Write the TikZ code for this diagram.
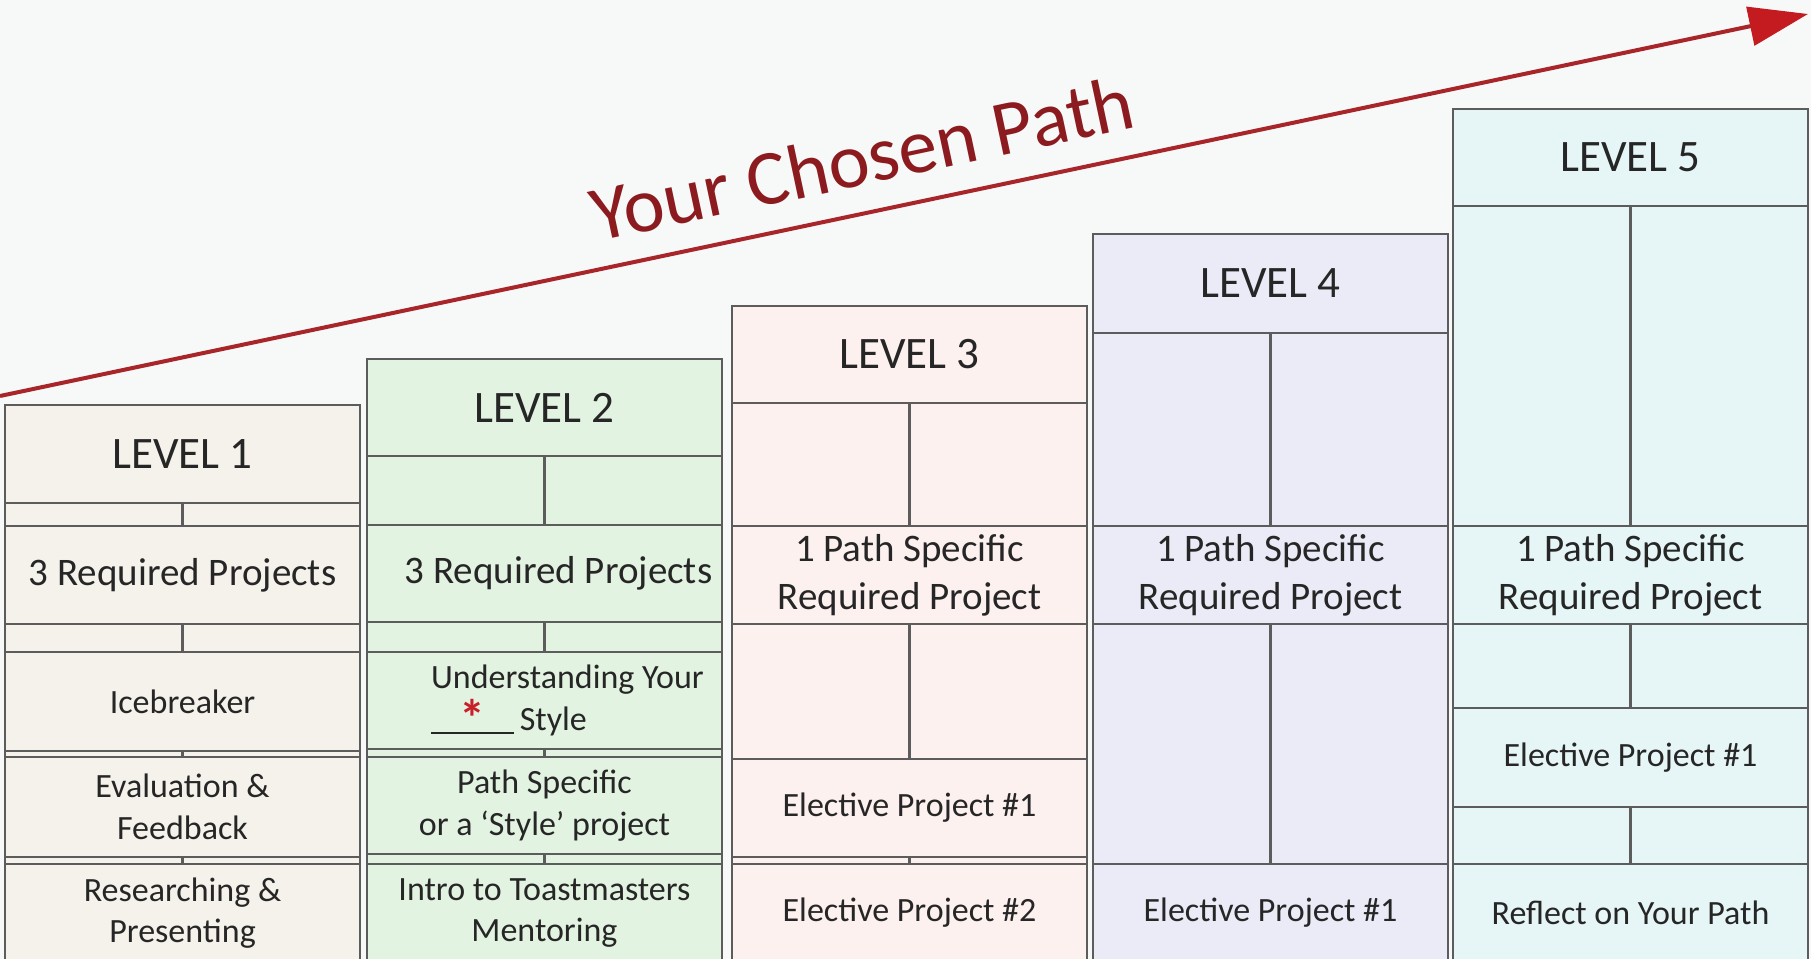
\documentclass[tikz,border=0pt]{standalone}
\usepackage{fontspec}
\setmainfont{Carlito}
\usetikzlibrary{arrows.meta}
\definecolor{bgcol}{HTML}{F7F9F9}
\definecolor{lineg}{HTML}{5C5C5C}
\definecolor{lvone}{HTML}{F4F2EA}
\definecolor{lvtwo}{HTML}{E3F3E1}
\definecolor{lvthree}{HTML}{FCF1EF}
\definecolor{lvfour}{HTML}{EBEBF8}
\definecolor{lvfive}{HTML}{E6F6F6}
\definecolor{pathline}{HTML}{A8262A}
\definecolor{pathhead}{HTML}{C41B20}
\definecolor{pathtext}{HTML}{8C1B1F}
\definecolor{starred}{HTML}{C8202A}

\begin{document}
\begin{tikzpicture}[x=0.5pt,y=-0.5pt,
  lvlbox/.style={draw=lineg,line width=1.2pt,anchor=north west,minimum width=177.5pt,inner sep=0pt,outer sep=0pt,align=center,text=black!85},
  lvl/.style={lvlbox,font=\fontsize{22.5}{27}\selectfont},
  big/.style={lvlbox,font=\fontsize{19.5}{24}\selectfont},
  small/.style={lvlbox,font=\fontsize{17}{20.7}\selectfont},
  band/.style={lvlbox},
  divider/.style={draw=lineg,line width=1.2pt},
  patharrow/.style={draw=pathline,line width=2pt,-{Triangle[length=29.5pt,width=19.5pt,fill=pathhead,color=pathhead]}},
  pathlabel/.style={text=pathtext,font=\fontsize{39}{45}\selectfont,inner sep=0pt}]
\useasboundingbox (0,0) rectangle (1811,959);
\fill[bgcol] (0,0) rectangle (1811,959);

\begin{scope}[every node/.append style={fill=lvone}]
\node[lvl,minimum height=49pt] (l1h) at (5,405) {LEVEL 1};
\node[band,minimum height=11.5pt] (l1b1) at (l1h.south west) {};
\node[big,minimum height=49pt] (l1r) at (l1b1.south west) {3 Required Projects};
\node[band,minimum height=14pt] (l1b2) at (l1r.south west) {};
\node[small,minimum height=49.5pt] (l1p1) at (l1b2.south west) {Icebreaker};
\node[band,minimum height=3pt] (l1b3) at (l1p1.south west) {};
\node[small,minimum height=50pt] (l1p2) at (l1b3.south west) {Evaluation \&\\Feedback};
\node[band,minimum height=3.5pt] (l1b4) at (l1p2.south west) {};
\node[small,minimum height=49pt] (l1p3) at (l1b4.south west) {Researching \&\\Presenting};
\end{scope}

\begin{scope}[every node/.append style={fill=lvtwo}]
\node[lvl,minimum height=48.5pt] (l2h) at (367,359) {LEVEL 2};
\node[band,minimum height=34.5pt] (l2b1) at (l2h.south west) {};
\node[big,minimum height=48.5pt] (l2r) at (l2b1.south west) {\hspace*{14pt}3 Required Projects};
\node[band,minimum height=15pt] (l2b2) at (l2r.south west) {};
\node[small,minimum height=48.5pt] (l2p1) at (l2b2.south west) {};
\node[band,minimum height=4pt] (l2b3) at (l2p1.south west) {};
\node[small,minimum height=48.5pt] (l2p2) at (l2b3.south west) {Path Specific\\or a ‘Style’ project};
\node[band,minimum height=5pt] (l2b4) at (l2p2.south west) {};
\node[small,minimum height=49pt] (l2p3) at (l2b4.south west) {Intro to Toastmasters\\Mentoring};
\end{scope}
\node[align=left,inner sep=0pt,text=black!85,font=\fontsize{17}{20.7}\selectfont] (l2style) at ([xshift=11.5pt]l2p1.center)
  {Understanding Your\\\rlap{\rule[-2pt]{2.44em}{1pt}}\makebox[2.44em]{\raisebox{-3pt}{\textcolor{starred}{\fontsize{26}{26}\selectfont\bfseries *}}}\,Style};

\begin{scope}[every node/.append style={fill=lvthree}]
\node[lvl,minimum height=48.5pt] (l3h) at (732,306) {LEVEL 3};
\node[band,minimum height=61.5pt] (l3b1) at (l3h.south west) {};
\node[big,minimum height=49pt] (l3r) at (l3b1.south west) {1 Path Specific\\Required Project};
\node[band,minimum height=67.5pt] (l3b2) at (l3r.south west) {};
\node[small,minimum height=49pt] (l3p1) at (l3b2.south west) {Elective Project \#1};
\node[band,minimum height=3.5pt] (l3b3) at (l3p1.south west) {};
\node[small,minimum height=49pt] (l3p2) at (l3b3.south west) {Elective Project \#2};
\end{scope}

\begin{scope}[every node/.append style={fill=lvfour}]
\node[lvl,minimum height=49.5pt] (l4h) at (1093,234) {LEVEL 4};
\node[band,minimum height=96.5pt] (l4b1) at (l4h.south west) {};
\node[big,minimum height=49pt] (l4r) at (l4b1.south west) {1 Path Specific\\Required Project};
\node[band,minimum height=120pt] (l4b2) at (l4r.south west) {};
\node[small,minimum height=49pt] (l4p1) at (l4b2.south west) {Elective Project \#1};
\end{scope}

\begin{scope}[every node/.append style={fill=lvfive}]
\node[lvl,minimum height=48.5pt] (l5h) at (1453,109) {LEVEL 5};
\node[band,minimum height=160pt] (l5b1) at (l5h.south west) {};
\node[big,minimum height=49pt] (l5r) at (l5b1.south west) {1 Path Specific\\Required Project};
\node[band,minimum height=42pt] (l5b2) at (l5r.south west) {};
\node[small,minimum height=49.5pt] (l5p1) at (l5b2.south west) {Elective Project \#1};
\node[band,minimum height=28.5pt] (l5b3) at (l5p1.south west) {};
\node[small,minimum height=49pt] (l5p2) at (l5b3.south west) {Reflect on Your Path};
\end{scope}

\foreach \b in {l1b1,l1b2,l1b3,l1b4,l2b1,l2b2,l2b3,l2b4,l3b1,l3b2,l3b3,l4b1,l4b2,l5b1,l5b2,l5b3}
  \draw[divider] (\b.north) -- (\b.south);

\coordinate (pathstart) at (0,396);
\coordinate (pathend) at (1808,14);
\draw[patharrow] (pathstart) -- (pathend);
\node[pathlabel,rotate=12] (chosen) at (862,158) {Your Chosen Path};
\end{tikzpicture}
\end{document}
